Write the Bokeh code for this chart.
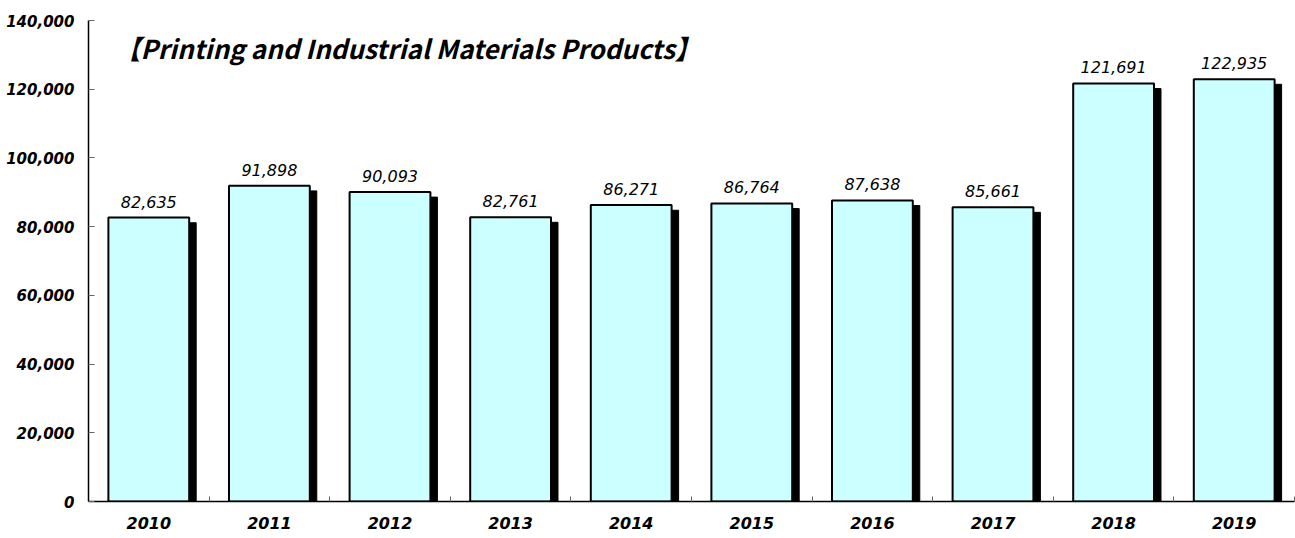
from bokeh.plotting import figure
from bokeh.models import ColumnDataSource, Range1d, FixedTicker, NumeralTickFormatter, Label
from bokeh.transform import dodge
from bokeh.core.properties import value
from bokeh.embed import file_html
from bokeh.resources import INLINE

years = ["2010", "2011", "2012", "2013", "2014", "2015", "2016", "2017", "2018", "2019"]
values = [82635, 91898, 90093, 82761, 86271, 86764, 87638, 85661, 121691, 122935]
y_ticks = [0, 20000, 40000, 60000, 80000, 100000, 120000, 140000]
title_text = "【Printing and Industrial Materials Products】"

n = len(years)
centers = [i + 0.5 for i in range(n)]
bounds = list(range(n + 1))

src = ColumnDataSource(dict(
    x=centers,
    value=values,
    label=[f"{v:,}" for v in values],
))

p = figure(width=1295, height=538, output_backend="svg", toolbar_location=None,
           x_range=Range1d(0, n), y_range=Range1d(0, 140000),
           min_border_left=88, min_border_right=1, min_border_top=20, min_border_bottom=37)
p.outline_line_color = None
p.xgrid.visible = False
p.ygrid.visible = False
p.background_fill_color = "white"
p.border_fill_color = "white"

# shadows
p.vbar(x=dodge("x", 0.058), top=dodge("value", -1500), bottom=0, width=0.67,
       source=src, fill_color="black", line_color="black", line_width=1)
# bars
p.vbar(x="x", top="value", bottom=0, width=0.67, source=src,
       fill_color="#CCFFFF", line_color="black", line_width=2)

# value labels
p.text(x="x", y="value", text="label", source=src, y_offset=-16,
       text_align="center", text_baseline="alphabetic",
       text_font=value("DejaVu Sans"), text_font_style="italic",
       text_font_size="16px", text_color="black")

# y axis
ya = p.yaxis[0]
ya.ticker = FixedTicker(ticks=y_ticks)
ya.formatter = NumeralTickFormatter(format="0,0")
ya.major_tick_in = 6
ya.major_tick_out = 0
ya.minor_tick_in = 0
ya.minor_tick_out = 0
ya.axis_line_color = "black"
ya.axis_line_width = 1.5
ya.major_tick_line_color = "#666666"
ya.major_label_standoff = 14
ya.major_label_text_font = "DejaVu Sans"
ya.major_label_text_font_style = "bold italic"
ya.major_label_text_font_size = "15px"
ya.major_label_text_color = "black"

# x axis
xa = p.xaxis[0]
xa.ticker = FixedTicker(ticks=centers, minor_ticks=bounds)
xa.major_label_overrides = {c: y for c, y in zip(centers, years)}
xa.major_tick_in = 0
xa.major_tick_out = 0
xa.minor_tick_in = 5
xa.minor_tick_out = 0
xa.minor_tick_line_color = "#666666"
xa.axis_line_color = "black"
xa.axis_line_width = 1.5
xa.major_label_standoff = 15
xa.major_label_text_font = "DejaVu Sans"
xa.major_label_text_font_style = "bold italic"
xa.major_label_text_font_size = "16px"
xa.major_label_text_color = "black"

title = Label(x=0.215, y=132200, x_units="data", y_units="data", text=title_text,
              text_font="Noto Sans CJK JP", text_font_style="bold italic",
              text_font_size="26px", text_color="black", text_baseline="middle")
p.add_layout(title)

open("out.html", "w").write(file_html(p, INLINE))
